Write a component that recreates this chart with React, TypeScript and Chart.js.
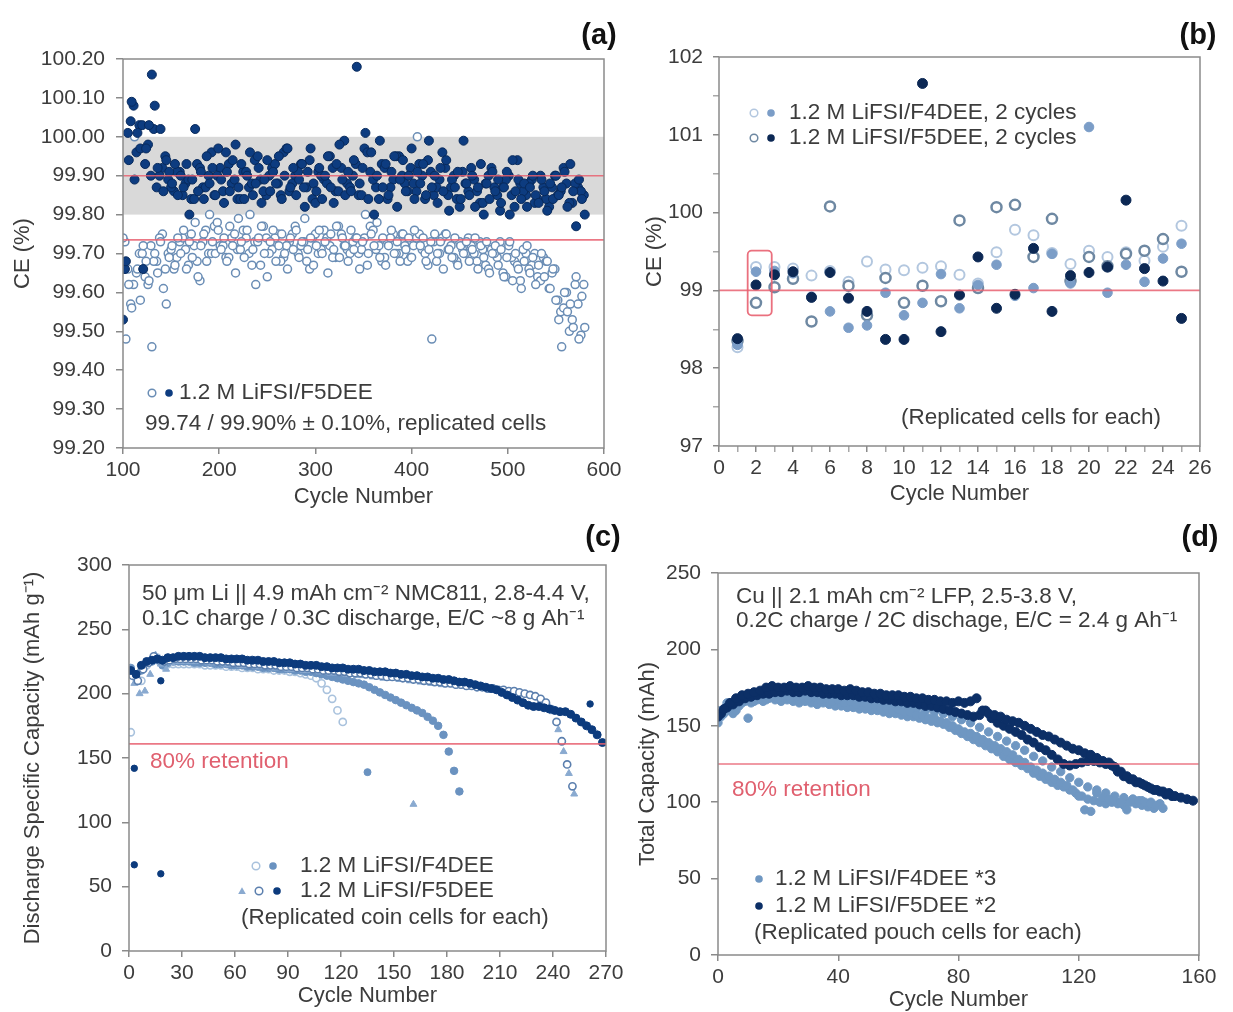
import React, { useEffect, useRef } from 'react';
import { Chart, registerables } from 'chart.js';
Chart.register(...registerables);

const FONT = '"Liberation Sans", Arial, Helvetica, sans-serif';
const TXT = '#3c3c3c';
const AXIS = '#8a8a8a';
const RED = 'rgba(232, 96, 112, 0.85)';
const RED_TXT = '#e0606f';
const TICK_SIZE = 21;
const TITLE_SIZE = 22;
const NOTE_SIZE = 22.5;

const seq = (start: number, step: number, n: number) => Array.from({ length: n }, (_, i) => start + i * step);
const pts = (xs: number[], ys: number[]) => ys.map((y, i) => ({ x: xs[i], y }));

// ---------------- Panel (a): CE vs cycle, 1.2 M LiFSI/F5DEE ----------------
const aCycles = seq(100, 3, 161);
const aCycles2 = seq(102, 6, 80);
const aCycles3 = seq(105, 6, 80);
const aFilled = [
  99.53, 99.68, 99.94, 100.09, 99.89, 100.01, 99.97, 99.66, 99.97, 100.03,
  100.16, 100.08, 99.92, 100.02, 99.86, 99.94, 99.91, 99.88, 99.93, 99.85,
  99.90, 99.87, 99.93, 99.80, 99.89, 100.02, 99.86, 99.91, 99.84, 99.95,
  99.88, 99.92, 99.85, 99.97, 99.89, 99.83, 99.91, 99.86, 99.94, 99.98,
  99.87, 99.93, 99.84, 99.90, 99.96, 99.85, 99.88, 99.92, 99.83, 99.89,
  99.94, 99.86, 99.91, 99.88, 99.95, 99.84, 99.90, 99.97, 99.87, 99.92,
  99.85, 99.89, 99.93, 99.82, 99.91, 99.97, 99.88, 99.86, 99.92, 99.84,
  99.90, 99.95, 99.87, 99.83, 99.93, 99.98, 99.89, 99.85, 99.91, 99.86,
  99.94, 100.18, 99.88, 99.92, 100.01, 99.84, 99.96, 99.80, 99.90, 99.99,
  99.87, 99.93, 99.85, 99.91, 99.95, 99.82, 99.89, 99.94, 99.86, 99.90,
  99.97, 99.84, 99.91, 99.88, 99.93, 99.85, 99.99, 99.87, 99.90, 99.83,
  99.92, 99.86, 99.94, 99.81, 99.89, 99.87, 99.91, 99.84, 99.99, 99.88,
  99.85, 99.90, 99.82, 99.87, 99.93, 99.80, 99.88, 99.84, 99.91, 99.86,
  99.89, 99.83, 99.87, 99.91, 99.80, 99.94, 99.86, 99.89, 99.84, 99.88,
  99.82, 99.87, 99.90, 99.85, 99.83, 99.89, 99.86, 99.81, 99.88, 99.84,
  99.90, 99.85, 99.87, 99.91, 99.82, 99.93, 99.86, 99.77, 99.89, 99.84, 99.80,
];
const aFilled2 = [
  99.66, 100.04, 99.96, 100.03, 99.98, 100.02, 99.90, 99.95, 99.87, 99.91,
  99.85, 99.89, 99.84, 99.92, 99.87, 99.96, 99.90, 99.86, 99.93, 99.89,
  99.84, 99.91, 99.88, 99.95, 99.86, 99.90, 99.93, 99.85, 99.97, 99.88,
  99.91, 99.87, 99.94, 99.83, 99.90, 99.88, 99.92, 99.86, 99.99, 99.87,
  99.93, 99.85, 99.96, 99.89, 99.84, 99.92, 99.87, 99.95, 99.90, 99.86,
  99.88, 99.93, 99.84, 99.91, 99.87, 99.96, 99.85, 99.90, 99.82, 99.88,
  99.92, 99.86, 99.83, 99.90, 99.87, 99.81, 99.89, 99.85, 99.94, 99.86,
  99.88, 99.83, 99.90, 99.84, 99.87, 99.85, 99.92, 99.83, 99.88, 99.86,
];
const aFilled3 = [
  100.01, 100.08, 100.03, 99.93, 99.90, 99.87, 99.92, 99.89, 99.86, 99.91,
  99.88, 99.84, 99.93, 99.87, 99.90, 99.85, 99.92, 99.96, 99.88, 99.84,
  99.91, 99.87, 99.94, 99.89, 99.85, 99.92, 99.88, 99.96, 99.86, 99.90,
  99.93, 99.87, 99.84, 99.91, 99.89, 99.95, 99.86, 99.92, 99.88, 99.90,
  99.85, 99.97, 99.91, 99.87, 99.93, 99.84, 99.89, 99.95, 99.88, 99.92,
  99.86, 99.90, 99.94, 99.85, 99.89, 99.92, 99.87, 99.84, 99.91, 99.86,
  99.89, 99.83, 99.88, 99.92, 99.85, 99.87, 99.90, 99.82, 99.88, 99.85,
  99.89, 99.84, 99.87, 99.82, 99.90, 99.86, 99.88, 99.83, 99.87, 99.85,
];
const aOpen = [
  99.74, 99.48, 99.62, 99.56, 100.00, 99.66, 99.58, 99.72, 99.68, 99.63,
  99.46, 99.70, 99.65, 99.73, 99.61, 99.57, 99.69, 99.72, 99.67, 99.74,
  99.70, 99.76, 99.66, 99.73, 99.69, 99.78, 99.64, 99.72, 99.75, 99.68,
  99.80, 99.73, 99.70, 99.76, 99.71, 99.74, 99.68, 99.77, 99.72, 99.65,
  99.79, 99.73, 99.69, 99.76, 99.80, 99.71, 99.62, 99.74, 99.77, 99.70,
  99.64, 99.73, 99.76, 99.68, 99.72, 99.75, 99.70, 99.66, 99.74, 99.71,
  99.76, 99.69, 99.73, 99.79, 99.71, 99.74, 99.67, 99.72, 99.76, 99.70,
  99.73, 99.65, 99.75, 99.71, 99.77, 99.69, 99.74, 99.72, 99.68, 99.76,
  99.71, 99.74, 99.66, 99.73, 99.80, 99.70, 99.75, 99.72, 99.78, 99.69,
  99.74, 99.67, 99.72, 99.76, 99.70, 99.73, 99.68, 99.75, 99.71, 99.74,
  99.69, 99.76, 100.00, 99.72, 99.74, 99.68, 99.71, 99.48, 99.75, 99.70,
  99.73, 99.66, 99.75, 99.71, 99.69, 99.74, 99.67, 99.72, 99.70, 99.73,
  99.68, 99.71, 99.74, 99.66, 99.72, 99.69, 99.73, 99.65, 99.70, 99.72,
  99.67, 99.71, 99.64, 99.69, 99.73, 99.63, 99.70, 99.66, 99.61, 99.68,
  99.72, 99.65, 99.69, 99.62, 99.67, 99.70, 99.64, 99.68, 99.61, 99.66,
  99.58, 99.53, 99.46, 99.60, 99.55, 99.57, 99.51, 99.64, 99.48, 99.59, 99.51,
];
const aOpen2 = [
  99.73, 99.57, 99.65, 99.70, 99.62, 99.68, 99.74, 99.66, 99.71, 99.69,
  99.74, 99.67, 99.72, 99.63, 99.76, 99.70, 99.78, 99.72, 99.69, 99.75,
  99.71, 99.74, 99.67, 99.73, 99.77, 99.70, 99.74, 99.68, 99.72, 99.75,
  99.70, 99.73, 99.66, 99.75, 99.71, 99.74, 99.69, 99.77, 99.72, 99.70,
  99.74, 99.71, 99.67, 99.76, 99.72, 99.69, 99.74, 99.70, 99.75, 99.68,
  99.72, 99.75, 99.70, 99.73, 99.68, 99.74, 99.71, 99.69, 99.73, 99.70,
  99.72, 99.68, 99.71, 99.66, 99.70, 99.73, 99.64, 99.69, 99.67, 99.71,
  99.66, 99.70, 99.63, 99.68, 99.65, 99.58, 99.56, 99.50, 99.62, 99.49,
];
const aOpen3 = [
  99.66, 99.62, 99.70, 99.64, 99.72, 99.68, 99.75, 99.70, 99.66, 99.73,
  99.71, 99.75, 99.68, 99.73, 99.70, 99.77, 99.72, 99.69, 99.74, 99.71,
  99.76, 99.70, 99.73, 99.67, 99.74, 99.71, 99.75, 99.69, 99.73, 99.77,
  99.72, 99.68, 99.74, 99.70, 99.76, 99.72, 99.69, 99.75, 99.71, 99.73,
  99.70, 99.74, 99.77, 99.71, 99.68, 99.73, 99.75, 99.70, 99.72, 99.69,
  99.74, 99.71, 99.67, 99.73, 99.70, 99.75, 99.72, 99.68, 99.71, 99.74,
  99.70, 99.73, 99.67, 99.71, 99.69, 99.65, 99.72, 99.68, 99.63, 99.70,
  99.67, 99.64, 99.69, 99.61, 99.66, 99.55, 99.60, 99.53, 99.57, 99.62,
];

// ---------------- Panel (b): first 25 cycles ----------------
const bCycles = seq(1, 1, 25);
const bF4Open = [98.27, 99.30, 99.30, 99.28, 99.19, 99.25, 99.11, 99.37, 99.27, 99.26, 99.29, 99.31, 99.20, 99.09, 99.49, 99.78, 99.71, 99.48, 99.34, 99.51, 99.43, 99.49, 99.38, 99.56, 99.83];
const bF4Filled = [98.30, 99.24, 99.25, 99.22, 98.92, 98.73, 98.52, 98.55, 98.97, 98.68, 98.84, 99.21, 98.77, 99.07, 99.33, 98.93, 99.03, 99.47, 99.09, 101.10, 98.97, 99.33, 99.11, 99.41, 99.60];
const bF5Open = [98.35, 98.84, 99.04, 99.15, 98.60, 100.08, 99.06, 98.68, 99.16, 98.84, 99.06, 98.86, 99.90, 99.03, 100.07, 100.10, 99.43, 99.92, 99.12, 99.43, 99.31, 99.47, 99.51, 99.66, 99.24];
const bF5Filled = [98.38, 99.07, 99.20, 99.24, 98.91, 99.23, 98.90, 98.73, 98.37, 98.37, 101.66, 98.47, 98.94, 99.43, 98.77, 98.95, 99.54, 98.73, 99.19, 99.23, 99.30, 100.16, 99.28, 99.12, 98.64];

// ---------------- Panel (c): coin cells ----------------
const cF5FilledCycles = seq(1, 3, 90);
const cF5Filled = [
  218, 215, 222, 225, 226, 227, 226, 228, 228, 229,
  229, 229, 229, 229, 228, 228, 228, 228, 227, 227,
  227, 227, 226, 226, 226, 225, 225, 225, 224, 224,
  224, 223, 223, 222, 222, 222, 221, 221, 220, 220,
  220, 219, 219, 219, 218, 218, 217, 217, 217, 216,
  216, 215, 215, 214, 214, 213, 213, 212, 212, 211,
  211, 210, 209, 209, 208, 207, 206, 205, 204, 203,
  201, 199, 197, 195, 193, 191, 190, 190, 189, 188,
  187, 186, 186, 184, 181, 178, 175, 172, 168, 162,
];
const cF5OpenCycles = seq(2, 3, 84);
const cF5Open = [
  214, 210, 219, 224, 229, 226, 225, 226, 227, 227,
  227, 227, 227, 226, 226, 226, 225, 225, 225, 224,
  224, 224, 223, 223, 223, 222, 222, 222, 221, 221,
  221, 220, 220, 220, 219, 219, 218, 218, 218, 217,
  217, 216, 216, 216, 215, 215, 214, 214, 213, 213,
  213, 212, 212, 211, 211, 210, 210, 209, 209, 208,
  208, 207, 207, 206, 206, 205, 205, 204, 204, 203,
  203, 202, 202, 201, 200, 199, 198, 196, 193, 188,
  178, 163, 145, 128,
];
const cF5TriCycles = seq(3, 3, 84);
const cF5Tri = [
  208, 200, 202, 215, 230, 223, 219, 224, 225, 225,
  225, 225, 225, 225, 224, 224, 224, 223, 223, 223,
  222, 222, 222, 221, 221, 221, 220, 220, 220, 219,
  219, 219, 218, 218, 218, 217, 217, 216, 216, 216,
  215, 215, 214, 214, 214, 213, 213, 212, 212, 212,
  211, 211, 210, 210, 209, 209, 208, 208, 207, 207,
  207, 206, 206, 205, 205, 204, 204, 203, 203, 202,
  202, 201, 201, 200, 199, 198, 197, 195, 192, 186,
  172, 155, 138, 122,
];
const cF4FilledCycles = seq(1, 3, 63);
const cF4Filled = [
  220, 213, 218, 224, 225, 226, 222, 224, 225, 225,
  225, 225, 224, 224, 224, 224, 223, 223, 223, 222,
  222, 222, 221, 221, 221, 220, 220, 220, 219, 219,
  219, 218, 218, 217, 217, 216, 215, 214, 213, 212,
  211, 210, 209, 208, 207, 205, 203, 201, 199, 197,
  195, 193, 191, 189, 187, 185, 182, 179, 175, 168,
  155, 140, 124,
];
const cF4OpenCycles = seq(1, 3, 41);
const cF4Open = [
  170, 212, 210, 222, 226, 228, 225, 223, 223, 223,
  223, 223, 223, 223, 222, 222, 222, 222, 221, 221,
  221, 220, 220, 220, 219, 219, 219, 218, 218, 218,
  217, 217, 216, 215, 214, 212, 208, 203, 196, 187,
  178,
];
const cOutCycles = [3, 3, 18, 18, 261];
const cOutCap = [142, 67, 60, 210, 192];
const cF4OutCycles = [135];
const cF4OutCap = [139];
const cTriOutCycles = [161];
const cTriOutCap = [114];

// ---------------- Panel (d): pouch cells ----------------
const dF5ACycles = seq(0, 2, 80);
const dF5A = [
  156, 161, 165, 168, 170, 171, 172, 173, 175, 176,
  175, 175, 176, 175, 175, 176, 175, 175, 174, 174,
  174, 173, 174, 173, 172, 172, 171, 171, 170, 170,
  170, 169, 169, 168, 168, 167, 167, 166, 166, 165,
  166, 165, 166, 168, 160, 158, 157, 156, 154, 153,
  152, 150, 148, 146, 144, 143, 141, 139, 137, 135,
  134, 132, 131, 129, 127, 126, 123, 120, 117, 115,
  113, 111, 109, 108, 107, 106, 104, 103, 102, 101,
];
const dF5BCycles = seq(1, 2, 76);
const dF5B = [
  158, 162, 164, 166, 168, 169, 170, 171, 171, 172,
  172, 173, 172, 172, 173, 172, 172, 171, 171, 171,
  170, 170, 170, 169, 169, 168, 168, 167, 167, 166,
  166, 165, 165, 164, 163, 163, 162, 161, 160, 159,
  158, 157, 156, 157, 160, 155, 152, 150, 148, 146,
  144, 141, 139, 136, 134, 131, 128, 125, 124, 125,
  126, 127, 127, 126, 125, 124, 120, 117, 115, 113,
  112, 110, 108, 107, 105, 104,
];
const dF4ACycles = seq(0, 2, 75);
const dF4A = [
  152, 158, 162, 160, 165, 155, 166, 168, 167, 169,
  168, 170, 168, 169, 170, 168, 169, 167, 168, 166,
  167, 165, 166, 164, 165, 163, 164, 162, 162, 160,
  161, 159, 159, 157, 157, 155, 155, 153, 152, 150,
  148, 146, 145, 143, 141, 139, 137, 135, 133, 131,
  128, 126, 123, 121, 119, 117, 115, 113, 111, 108,
  104, 95, 94, 106, 103, 102, 101, 100, 95, 102,
  101, 100, 99, 98, 96,
];
const dF4BCycles = seq(1, 2, 74);
const dF4B = [
  156, 160, 158, 163, 166, 165, 167, 166, 168, 167,
  166, 167, 166, 165, 166, 165, 164, 165, 164, 163,
  163, 162, 162, 161, 161, 160, 160, 159, 158, 158,
  157, 156, 156, 155, 154, 153, 152, 151, 149, 147,
  145, 143, 141, 139, 137, 135, 133, 130, 128, 126,
  124, 122, 119, 117, 115, 113, 111, 110, 108, 106,
  104, 102, 101, 100, 99, 100, 99, 98, 100, 99,
  98, 97, 96, 99,
];
const dF4CCycles = seq(0, 3, 49);
const dF4C = [
  160, 165, 163, 168, 170, 169, 171, 170, 171, 170,
  170, 169, 169, 168, 168, 167, 166, 166, 165, 164,
  163, 162, 161, 160, 159, 158, 156, 154, 152, 149,
  146, 143, 140, 137, 134, 130, 127, 123, 120, 116,
  113, 110, 108, 106, 104, 103, 102, 101, 100,
];

// ---------------- styling helpers ----------------
const C_A_FILLED = '#0d3c80';
const C_A_OPEN = '#6a8db5';
const C_B_F4O = '#b3c7df';
const C_B_F4F = '#7b9dc7';
const C_B_F5O = '#6e88a2';
const C_B_F5F = '#0c2854';
const C_C_F4O = '#a9c2dd';
const C_C_F4F = '#6a92c0';
const C_C_TRI = '#8aaad0';
const C_C_F5O = '#5b7fae';
const C_C_F5F = '#0c3b7d';
const C_D_F4 = '#6f97c2';
const C_D_F5 = '#0c2f66';

function filled(data: any[], color: string, r = 4, border?: string) {
  return { data, pointStyle: 'circle', pointRadius: r, backgroundColor: color, borderColor: border || color, pointBorderWidth: 1, showLine: false };
}
function open(data: any[], color: string, r = 3.5, bw = 1.5) {
  return { data, pointStyle: 'circle', pointRadius: r, backgroundColor: '#ffffff', borderColor: color, pointBorderWidth: bw, showLine: false };
}
function tri(data: any[], color: string, r = 4) {
  return { data, pointStyle: 'triangle', pointRadius: r, backgroundColor: color, borderColor: color, pointBorderWidth: 1, showLine: false };
}

type Txt = { t: string; x: number; y: number; size?: number; bold?: boolean; color?: string; align?: CanvasTextAlign };
type Mark = { x: number; y: number; kind: 'open' | 'filled' | 'tri'; color: string; r?: number };
type AxisSpec = { min: number; max: number; step: number; fmt: (v: number) => string; title: string; tickLen: number; tickPad: number; minor?: (v: number) => boolean };
type PanelCfg = {
  left: number; top: number; w: number; h: number;
  plot: { l: number; r: number; t: number; b: number };
  xTitleY: number; yTitleX: number;
  x: AxisSpec; y: AxisSpec;
  datasets: any[];
  bands?: { from: number; to: number; color: string }[];
  hlines?: number[];
  rrect?: { x0: number; x1: number; y0: number; y1: number };
  texts: Txt[];
  marks: Mark[];
};

const overlay = {
  id: 'overlay',
  beforeDatasetsDraw(chart: any, _a: any, o: any) {
    const { ctx, chartArea: ca, scales } = chart;
    ctx.save();
    for (const b of o.bands || []) {
      const y1 = scales.y.getPixelForValue(b.to);
      const y2 = scales.y.getPixelForValue(b.from);
      ctx.fillStyle = b.color;
      ctx.fillRect(ca.left, y1, ca.right - ca.left, y2 - y1);
    }
    ctx.restore();
  },
  afterDatasetsDraw(chart: any, _a: any, o: any) {
    const { ctx, chartArea: ca, scales } = chart;
    ctx.save();
    ctx.strokeStyle = RED;
    ctx.lineWidth = 1.6;
    for (const v of o.hlines || []) {
      const y = scales.y.getPixelForValue(v);
      ctx.beginPath(); ctx.moveTo(ca.left, y); ctx.lineTo(ca.right, y); ctx.stroke();
    }
    if (o.rrect) {
      const r = o.rrect;
      const x0 = scales.x.getPixelForValue(r.x0), x1 = scales.x.getPixelForValue(r.x1);
      const y0 = scales.y.getPixelForValue(r.y1), y1 = scales.y.getPixelForValue(r.y0);
      ctx.strokeStyle = 'rgba(232, 96, 112, 0.9)';
      ctx.lineWidth = 1.8;
      ctx.beginPath();
      (ctx as any).roundRect(x0, y0, x1 - x0, y1 - y0, 4);
      ctx.stroke();
    }
    ctx.strokeStyle = AXIS;
    ctx.lineWidth = 1.5;
    ctx.strokeRect(ca.left, ca.top, ca.right - ca.left, ca.bottom - ca.top);
    ctx.textBaseline = 'middle';
    for (const t of o.texts || []) {
      ctx.font = `${t.bold ? 'bold ' : ''}${t.size || NOTE_SIZE}px ${FONT}`;
      ctx.fillStyle = t.color || TXT;
      ctx.textAlign = t.align || 'left';
      ctx.fillText(t.t, t.x - o.ox, t.y - o.oy);
    }
    for (const m of o.marks || []) {
      const x = m.x - o.ox, y = m.y - o.oy, r = m.r || 3.8;
      ctx.beginPath();
      if (m.kind === 'tri') {
        ctx.moveTo(x, y - r); ctx.lineTo(x + r, y + r * 0.8); ctx.lineTo(x - r, y + r * 0.8); ctx.closePath();
        ctx.fillStyle = m.color; ctx.fill();
      } else {
        ctx.arc(x, y, r, 0, Math.PI * 2);
        if (m.kind === 'open') { ctx.fillStyle = '#fff'; ctx.fill(); ctx.strokeStyle = m.color; ctx.lineWidth = 1.5; ctx.stroke(); }
        else { ctx.fillStyle = m.color; ctx.fill(); }
      }
    }
    ctx.restore();
  },
};

function scaleOpts(a: AxisSpec, isX: boolean, fixed: number, titlePad: number) {
  return {
    type: 'linear',
    min: a.min,
    max: a.max,
    afterFit: (s: any) => {
      if (isX) s.height = fixed; else s.width = fixed;
      s.paddingLeft = 0; s.paddingRight = 0; s.paddingTop = 0; s.paddingBottom = 0;
    },
    ticks: {
      stepSize: a.step, autoSkip: false, maxRotation: 0, minRotation: 0, padding: a.tickPad,
      color: TXT, font: { family: FONT, size: TICK_SIZE },
      callback: (v: any) => a.fmt(Number(v)),
    },
    grid: {
      drawOnChartArea: false, drawTicks: true, tickLength: a.tickLen, lineWidth: 1.5,
      color: (c: any) => (a.minor && c.tick && a.minor(c.tick.value) ? '#a8a8a8' : AXIS),
    },
    border: { display: false },
    title: {
      display: true, text: a.title, color: TXT, font: { family: FONT, size: TITLE_SIZE },
      padding: isX ? { top: 0, bottom: 0 } : { top: titlePad, bottom: 0 },
    },
  };
}

function Panel({ p }: { p: PanelCfg }) {
  const ref = useRef<HTMLCanvasElement>(null);
  useEffect(() => {
    if (!ref.current) return;
    const half = TITLE_SIZE * 1.2 / 2;
    const yW = p.plot.l - p.left;
    const xH = p.xTitleY + half - p.plot.b;
    const padTop = p.plot.t - p.top;
    const padRight = p.left + p.w - p.plot.r;
    const padBottom = p.top + p.h - (p.plot.b + xH);
    const titlePad = p.yTitleX - p.left - half;
    const chart = new Chart(ref.current, {
      type: 'scatter',
      data: { datasets: p.datasets },
      options: {
        responsive: false,
        animation: false,
        events: [],
        layout: { padding: { left: 0, top: padTop, right: padRight, bottom: padBottom } },
        plugins: {
          legend: { display: false },
          tooltip: { enabled: false },
          overlay: { bands: p.bands, hlines: p.hlines, rrect: p.rrect, texts: p.texts, marks: p.marks, ox: p.left, oy: p.top },
        } as any,
        scales: {
          x: scaleOpts(p.x, true, xH, 0) as any,
          y: scaleOpts(p.y, false, yW, titlePad) as any,
        },
      },
      plugins: [overlay],
    });
    return () => chart.destroy();
  }, [p]);
  return (
    <canvas ref={ref} width={p.w} height={p.h}
      style={{ position: 'absolute', left: p.left, top: p.top, width: p.w, height: p.h }} />
  );
}

const intFmt = (v: number) => String(Math.round(v));

const panelA: PanelCfg = {
  left: 0, top: 0, w: 640, h: 515,
  plot: { l: 123, r: 604, t: 59, b: 448 },
  xTitleY: 497, yTitleX: 23,
  x: { min: 100, max: 600, step: 100, fmt: intFmt, title: 'Cycle Number', tickLen: 6, tickPad: 4 },
  y: { min: 99.2, max: 100.2, step: 0.1, fmt: (v) => v.toFixed(2), title: 'CE (%)', tickLen: 7, tickPad: 11 },
  datasets: [
    filled(pts(aCycles, aFilled), C_A_FILLED, 4.5, '#082a5c'),
    filled(pts(aCycles2, aFilled2), C_A_FILLED, 4.5, '#082a5c'),
    filled(pts(aCycles3, aFilled3), C_A_FILLED, 4.5, '#082a5c'),
    open(pts(aCycles, aOpen), C_A_OPEN, 4),
    open(pts(aCycles2, aOpen2), C_A_OPEN, 4),
    open(pts(aCycles3, aOpen3), C_A_OPEN, 4),
  ],
  bands: [{ from: 99.8, to: 100.0, color: '#d9d9d9' }],
  hlines: [99.9, 99.735],
  texts: [
    { t: '1.2 M LiFSI/F5DEE', x: 179, y: 393 },
    { t: '99.74 / 99.90% \u00b1 0.10%, replicated cells', x: 145, y: 424 },
    { t: '(a)', x: 599, y: 36, size: 29, bold: true, align: 'center', color: '#111' },
  ],
  marks: [
    { x: 152, y: 393, kind: 'open', color: C_A_OPEN },
    { x: 169, y: 393, kind: 'filled', color: C_A_FILLED },
  ],
};

const panelB: PanelCfg = {
  left: 612, top: 0, w: 621, h: 515,
  plot: { l: 719, r: 1200, t: 57, b: 446 },
  xTitleY: 494, yTitleX: 655,
  x: { min: 0, max: 26, step: 1, fmt: (v) => (Math.round(v) % 2 === 0 ? String(Math.round(v)) : ''), title: 'Cycle Number', tickLen: 6, tickPad: 4, minor: (v) => Math.round(v) % 2 !== 0 },
  y: { min: 97, max: 102, step: 0.5, fmt: (v) => (Math.abs(v - Math.round(v)) < 1e-6 ? String(Math.round(v)) : ''), title: 'CE (%)', tickLen: 6, tickPad: 10, minor: (v) => Math.abs(v - Math.round(v)) > 1e-6 },
  datasets: [
    filled(pts(bCycles, bF5Filled), C_B_F5F, 5),
    filled(pts(bCycles, bF4Filled), C_B_F4F, 4.8),
    open(pts(bCycles, bF5Open), C_B_F5O, 5, 2.5),
    open(pts(bCycles, bF4Open), C_B_F4O, 5, 2),
  ],
  hlines: [99],
  rrect: { x0: 1.55, x1: 2.85, y0: 98.68, y1: 99.51 },
  texts: [
    { t: '1.2 M LiFSI/F4DEE, 2 cycles', x: 789, y: 113 },
    { t: '1.2 M LiFSI/F5DEE, 2 cycles', x: 789, y: 138 },
    { t: '(Replicated cells for each)', x: 1031, y: 418, align: 'center' },
    { t: '(b)', x: 1198, y: 36, size: 29, bold: true, align: 'center', color: '#111' },
  ],
  marks: [
    { x: 754, y: 113, kind: 'open', color: C_B_F4O },
    { x: 771, y: 113, kind: 'filled', color: C_B_F4F },
    { x: 754, y: 138, kind: 'open', color: C_B_F5O },
    { x: 771, y: 138, kind: 'filled', color: C_B_F5F },
  ],
};

const panelC: PanelCfg = {
  left: 0, top: 505, w: 640, h: 507,
  plot: { l: 129, r: 606, t: 565, b: 951 },
  xTitleY: 996, yTitleX: 33,
  x: { min: 0, max: 270, step: 30, fmt: intFmt, title: 'Cycle Number', tickLen: 6, tickPad: 4 },
  y: { min: 0, max: 300, step: 50, fmt: intFmt, title: 'Discharge Specific Capacity (mAh g\u207b\u00b9)', tickLen: 7, tickPad: 10 },
  datasets: [
    filled(pts(cOutCycles, cOutCap), C_C_F5F, 3.2),
    filled(pts(cF5FilledCycles, cF5Filled), C_C_F5F, 4),
    open(pts(cF5OpenCycles, cF5Open), C_C_F5O, 3.6, 1.6),
    tri(pts(cF5TriCycles, cF5Tri), C_C_TRI, 4),
    tri(pts(cTriOutCycles, cTriOutCap), C_C_TRI, 4),
    filled(pts(cF4FilledCycles, cF4Filled), C_C_F4F, 3.8),
    filled(pts(cF4OutCycles, cF4OutCap), C_C_F4F, 3.5),
    open(pts(cF4OpenCycles, cF4Open), C_C_F4O, 3.6, 1.6),
  ],
  hlines: [161],
  texts: [
    { t: '50 \u03bcm Li || 4.9 mAh cm\u207b\u00b2 NMC811, 2.8-4.4 V,', x: 142, y: 594 },
    { t: '0.1C charge / 0.3C discharge, E/C ~8 g Ah\u207b\u00b9', x: 142, y: 619 },
    { t: '80% retention', x: 150, y: 762, color: RED_TXT },
    { t: '1.2 M LiFSI/F4DEE', x: 300, y: 866 },
    { t: '1.2 M LiFSI/F5DEE', x: 300, y: 891 },
    { t: '(Replicated coin cells for each)', x: 241, y: 918 },
    { t: '(c)', x: 603, y: 538, size: 29, bold: true, align: 'center', color: '#111' },
  ],
  marks: [
    { x: 256, y: 866, kind: 'open', color: C_C_F4O },
    { x: 273, y: 866, kind: 'filled', color: C_C_F4F },
    { x: 242, y: 891, kind: 'tri', color: C_C_TRI },
    { x: 259, y: 891, kind: 'open', color: C_C_F5O },
    { x: 277, y: 891, kind: 'filled', color: C_C_F5F },
  ],
};

const panelD: PanelCfg = {
  left: 612, top: 505, w: 621, h: 507,
  plot: { l: 718, r: 1199, t: 573, b: 955 },
  xTitleY: 1000, yTitleX: 648,
  x: { min: 0, max: 160, step: 40, fmt: intFmt, title: 'Cycle Number', tickLen: 6, tickPad: 4 },
  y: { min: 0, max: 250, step: 50, fmt: intFmt, title: 'Total Capacity (mAh)', tickLen: 7, tickPad: 10 },
  datasets: [
    filled(pts(dF5ACycles, dF5A), C_D_F5, 4.5),
    filled(pts(dF5BCycles, dF5B), C_D_F5, 4.5),
    filled(pts(dF4ACycles, dF4A), C_D_F4, 4.2),
    filled(pts(dF4BCycles, dF4B), C_D_F4, 4.2),
    filled(pts(dF4CCycles, dF4C), C_D_F4, 4.2),
  ],
  hlines: [125],
  texts: [
    { t: 'Cu || 2.1 mAh cm\u207b\u00b2 LFP, 2.5-3.8 V,', x: 736, y: 597 },
    { t: '0.2C charge / 2C dischage, E/C = 2.4 g Ah\u207b\u00b9', x: 736, y: 621 },
    { t: '80% retention', x: 732, y: 790, color: RED_TXT },
    { t: '1.2 M LiFSI/F4DEE *3', x: 775, y: 879 },
    { t: '1.2 M LiFSI/F5DEE *2', x: 775, y: 906 },
    { t: '(Replicated pouch cells for each)', x: 754, y: 933 },
    { t: '(d)', x: 1200, y: 538, size: 29, bold: true, align: 'center', color: '#111' },
  ],
  marks: [
    { x: 759, y: 879, kind: 'filled', color: C_D_F4 },
    { x: 759, y: 906, kind: 'filled', color: C_D_F5 },
  ],
};

export default function App() {
  return (
    <div style={{ position: 'absolute', left: 0, top: 0, width: 1233, height: 1012, background: '#ffffff', overflow: 'hidden' }}>
      <Panel p={panelA} />
      <Panel p={panelB} />
      <Panel p={panelC} />
      <Panel p={panelD} />
    </div>
  );
}
